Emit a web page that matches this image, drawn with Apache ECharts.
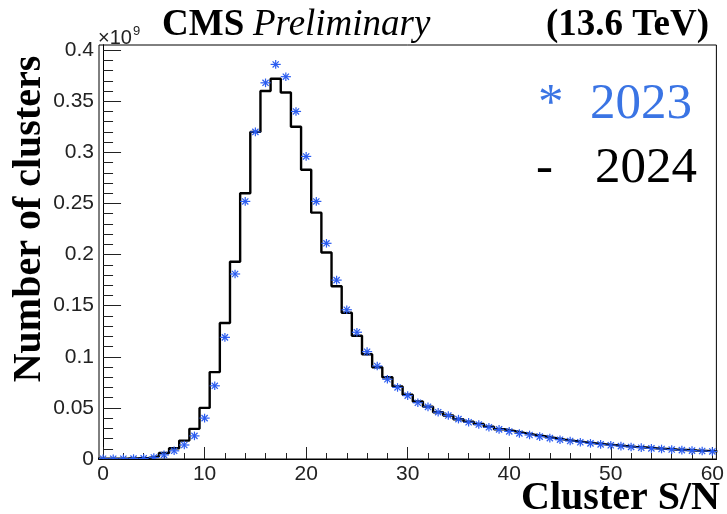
<!DOCTYPE html>
<html>
<head>
<meta charset="utf-8">
<script src="https://cdn.jsdelivr.net/npm/echarts@6/dist/echarts.min.js"></script>
<style>
html,body{margin:0;padding:0;background:#fff;}
#chart{width:727px;height:514px;}
</style>
</head>
<body>
<div id="chart"></div>
<script>
// ---- data (values in units of 10^9 clusters) ----
const binCenters = [0,1,2,3,4,5,6,7,8,9,10,11,12,13,14,15,16,17,18,19,20,
  21,22,23,24,25,26,27,28,29,30,31,32,33,34,35,36,37,38,39,40,
  41,42,43,44,45,46,47,48,49,50,51,52,53,54,55,56,57,58,59,60];
const binWidth = 1;
const counts2024 = [0.0004,0.0004,0.0005,0.0007,0.0011,0.0025,0.0058,0.0105,0.0180,0.0295,0.0500,
  0.0850,0.1330,0.1930,0.2600,0.3200,0.3600,0.3720,0.3585,0.3250,0.2830,
  0.2410,0.2020,0.1690,0.1430,0.1205,0.1025,0.0898,0.0800,0.0710,0.0628,
  0.0562,0.0512,0.0458,0.0425,0.0389,0.0366,0.0342,0.0316,0.0291,0.0274,
  0.0255,0.0238,0.0222,0.0206,0.0190,0.0177,0.0165,0.0154,0.0144,0.0136,
  0.0127,0.0119,0.0112,0.0105,0.0099,0.0093,0.0088,0.0083,0.0079,0.0075];
const counts2023 = [0.0003,0.0003,0.0003,0.0004,0.0006,0.0015,0.0040,0.0080,0.0137,0.0226,0.0400,
  0.0716,0.1190,0.1810,0.2520,0.3200,0.3680,0.3860,0.3740,0.3400,0.2960,
  0.2520,0.2110,0.1750,0.1460,0.1240,0.1050,0.0910,0.0780,0.0700,0.0620,
  0.0550,0.0510,0.0458,0.0425,0.0390,0.0360,0.0337,0.0310,0.0290,0.0270,
  0.0250,0.0235,0.0219,0.0204,0.0189,0.0176,0.0164,0.0153,0.0143,0.0135,
  0.0126,0.0118,0.0111,0.0104,0.0098,0.0092,0.0087,0.0082,0.0078,0.0074];
const xTickLabels = [0,10,20,30,40,50,60];
const xMinorTicks = [2,4,6,8,12,14,16,18,22,24,26,28,32,34,36,38,42,44,46,48,52,54,56,58];
const yTickLabels = [0,0.05,0.1,0.15,0.2,0.25,0.3,0.35,0.4];
const yMinorTicks = [0.01,0.02,0.03,0.04,0.06,0.07,0.08,0.09,0.11,0.12,0.13,0.14,0.16,0.17,0.18,0.19,
  0.21,0.22,0.23,0.24,0.26,0.27,0.28,0.29,0.31,0.32,0.33,0.34,0.36,0.37,0.38,0.39];
const seriesNames = ['2023','2024'];

// ---- build library inputs ----
const histData = binCenters.map((c, i) => [c - binWidth / 2, counts2024[i]]);
histData.push([binCenters[binCenters.length - 1] + binWidth / 2, counts2024[counts2024.length - 1]]);
const pointData = binCenters.map((c, i) => [c, counts2023[i]]);

const serif = "Liberation Serif";
const sans = "Liberation Sans";
const blueMark = '#2a5cf0';
const blueText = '#3a74e4';

const X_MIN = -0.4, X_MAX = 60.4, Y_MIN = 0, Y_MAX = 0.405;

function xAxisBase(extra) {
  return Object.assign({
    type: 'value', min: X_MIN, max: X_MAX, position: 'bottom',
    axisLine: { show: true, lineStyle: { color: '#000', width: 1 } },
    splitLine: { show: false },
    axisLabel: { show: false },
    axisTick: { show: false }
  }, extra);
}
function yAxisBase(extra) {
  return Object.assign({
    type: 'value', min: Y_MIN, max: Y_MAX, position: 'left',
    axisLine: { show: true, lineStyle: { color: '#000', width: 1 } },
    splitLine: { show: false },
    axisLabel: { show: false },
    axisTick: { show: false }
  }, extra);
}
function txt(x, y, text, size, family, opts) {
  return Object.assign({ type: 'text', x: x, y: y, style: Object.assign({
    text: text, fontSize: size, fontFamily: family, fill: '#000', verticalAlign: 'middle'
  }, opts || {}) });
}

const option = {
  animation: false,
  backgroundColor: '#fff',
  grid: { left: 99, right: 7, top: 45, bottom: 55, show: true, borderColor: '#000', borderWidth: 1, backgroundColor: 'transparent' },
  xAxis: [
    xAxisBase({
      axisTick: { show: true, inside: true, length: 12, customValues: xTickLabels, lineStyle: { color: '#222', width: 1 } },
      axisLabel: { show: true, customValues: xTickLabels, margin: 5, fontFamily: sans, fontSize: 21, color: '#222' }
    }),
    xAxisBase({
      axisTick: { show: true, inside: true, length: 6, customValues: xMinorTicks, lineStyle: { color: '#222', width: 1 } }
    })
  ],
  yAxis: [
    yAxisBase({
      axisTick: { show: true, inside: true, length: 18, customValues: yTickLabels, lineStyle: { color: '#222', width: 1 } },
      axisLabel: { show: true, customValues: yTickLabels, margin: 5, fontFamily: sans, fontSize: 21, color: '#222', padding: [3, 0, 0, 0] }
    }),
    yAxisBase({
      axisTick: { show: true, inside: true, length: 10, customValues: yMinorTicks, lineStyle: { color: '#222', width: 1 } }
    })
  ],
  series: [
    {
      name: seriesNames[1], type: 'line', step: 'end', data: histData,
      xAxisIndex: 0, yAxisIndex: 0,
      showSymbol: false, symbol: 'none', clip: true,
      lineStyle: { color: '#000', width: 2.4 }, z: 2
    },
    {
      name: seriesNames[0], type: 'custom', data: pointData,
      xAxisIndex: 0, yAxisIndex: 0, clip: true, z: 3,
      renderItem: function (params, api) {
        const x = api.value(0), y = api.value(1);
        const c = api.coord([x, y]);
        const l = api.coord([x - binWidth / 2, y]);
        const r = api.coord([x + binWidth / 2, y]);
        const s = 4.3, d = 3.1;
        const st = { stroke: blueMark, lineWidth: 1.2 };
        return {
          type: 'group',
          children: [
            { type: 'line', shape: { x1: l[0], y1: c[1], x2: r[0], y2: c[1] }, style: st },
            { type: 'line', shape: { x1: c[0], y1: c[1] - s, x2: c[0], y2: c[1] + s }, style: st },
            { type: 'line', shape: { x1: c[0] - d, y1: c[1] - d, x2: c[0] + d, y2: c[1] + d }, style: st },
            { type: 'line', shape: { x1: c[0] - d, y1: c[1] + d, x2: c[0] + d, y2: c[1] - d }, style: st }
          ]
        };
      }
    }
  ],
  graphic: [
    txt(98, 38, '×10', 20, sans, { fill: '#222' }),
    txt(133, 31, '9', 13, sans, { fill: '#222' }),
    txt(162, 25, 'CMS', 37, serif, { fontWeight: 'bold' }),
    txt(253, 25, 'Preliminary', 37, serif, { fontStyle: 'italic' }),
    txt(709, 25, '(13.6 TeV)', 37, serif, { fontWeight: 'bold', align: 'right' }),
    Object.assign(txt(30, 219, 'Number of clusters', 40, serif, { fontWeight: 'bold', align: 'center' }), { rotation: Math.PI / 2 }),
    txt(720, 499, 'Cluster S/N', 40, serif, { fontWeight: 'bold', align: 'right' }),
    txt(538, 105, '*', 51, serif, { fill: blueText }),
    txt(590, 105, seriesNames[0], 51, serif, { fill: blueText }),
    txt(536, 169, '-', 51, serif),
    txt(595, 169, seriesNames[1], 51, serif)
  ]
};

const chart = echarts.init(document.getElementById('chart'), null, { renderer: 'canvas' });
chart.setOption(option);
</script>
</body>
</html>
